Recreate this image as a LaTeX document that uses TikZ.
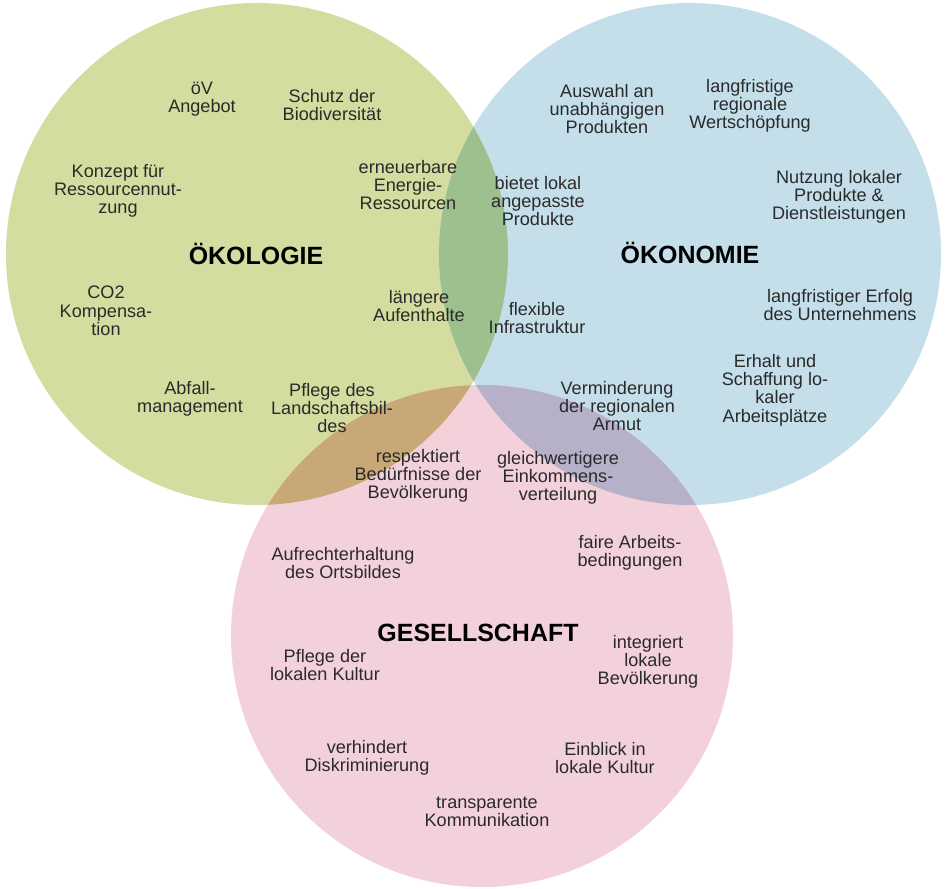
\documentclass[tikz,border=0pt]{standalone}
\usepackage{fontspec}
\setmainfont{Liberation Sans}
\usepackage{tikz}
\usepackage{xcolor}
\usetikzlibrary{positioning}
\definecolor{oekogreen}{HTML}{D5DC9F}
\definecolor{oekoblue}{HTML}{C4DFE9}
\definecolor{gesellpink}{HTML}{F3D1DB}
\definecolor{greenblue}{HTML}{9EBF8E}
\definecolor{greenpink}{HTML}{C8A876}
\definecolor{bluepink}{HTML}{B6B0C8}
\definecolor{allthree}{HTML}{9C9C7A}
\definecolor{inktext}{HTML}{2A2A2A}

\begin{document}
\begin{tikzpicture}[scale=0.2]
\tikzstyle{every node}+=[inner sep=0pt]
\tikzstyle{txt}=[align=center,text=inktext,font=\fontsize{10.3}{10.4}\selectfont]
\tikzstyle{head}=[align=center,text=black,font=\fontsize{14.2}{15}\selectfont\bfseries]
\useasboundingbox [fill=white] (0,0) rectangle (94.5,-88.9);
\coordinate (oeko) at (25.7,-25.4);
\coordinate (oeko2) at (69.0,-25.4);
\coordinate (gesell) at (48.2,-63.6);
\fill [oekogreen] (oeko) circle (25.1);
\fill [oekoblue] (oeko2) circle (25.1);
\fill [gesellpink] (gesell) circle (25.1);
\begin{scope}
\clip (oeko) circle (25.1);
\fill [greenblue] (oeko2) circle (25.1);
\fill [greenpink] (gesell) circle (25.1);
\end{scope}
\begin{scope}
\clip (oeko2) circle (25.1);
\fill [bluepink] (gesell) circle (25.1);
\clip (oeko) circle (25.1);
\fill [allthree] (gesell) circle (25.1);
\end{scope}
% Oekologie
\draw (25.6,-25.4) node [head] (oekologie) {ÖKOLOGIE};
\draw (20.2,-9.9) node [txt] (oev) {öV\\Angebot};
\draw (33.2,-10.5) node [txt] (biodiv) {Schutz der\\Biodiversität};
\draw (40.8,-18.5) node [txt] (energie) {erneuerbare\\Energie-\\Ressourcen};
\draw (11.8,-19.1) node [txt] (ressourcen) {Konzept für\\Ressourcennut-\\zung};
\draw (10.6,-31.1) node [txt] (co2) {CO2\\Kompensa-\\tion};
\draw (41.9,-30.6) node [txt] (aufenthalt) {längere\\Aufenthalte};
\draw (19.0,-39.9) node [txt] (abfall) {Abfall-\\management};
\draw (33.2,-40.8) node [txt] (landschaft) {Pflege des\\Landschaftsbil-\\des};
% Oekonomie
\draw (69.0,-25.3) node [head] (oekonomie) {ÖKONOMIE};
\draw (60.7,-10.9) node [txt] (auswahl) {Auswahl an\\unabhängigen\\Produkten};
\draw (75.0,-10.6) node [txt] (wertschoepfung) {langfristige\\regionale\\Wertschöpfung};
\draw (53.8,-20.1) node [txt] (angepasst) {bietet lokal\\angepasste\\Produkte};
\draw (83.9,-19.7) node [txt] (nutzung) {Nutzung lokaler\\Produkte \&\\Dienstleistungen};
\draw (84.0,-30.5) node [txt] (erfolg) {langfristiger Erfolg\\des Unternehmens};
\draw (53.7,-31.8) node [txt] (infra) {flexible\\Infrastruktur};
\draw (77.5,-39.0) node [txt] (arbeitsplatz) {Erhalt und\\Schaffung lo-\\kaler\\Arbeitsplätze};
\draw (61.7,-40.6) node [txt] (armut) {Verminderung\\der regionalen\\Armut};
% Gesellschaft
\draw (47.8,-63.3) node [head] (gesellschaft) {GESELLSCHAFT};
\draw (41.8,-47.6) node [txt] (beduerfnis) {respektiert\\Bedürfnisse der\\Bevölkerung};
\draw (55.8,-47.8) node [txt] (einkommen) {gleichwertigere\\Einkommens-\\verteilung};
\draw (34.3,-56.3) node [txt] (ortsbild) {Aufrechterhaltung\\des Ortsbildes};
\draw (63.0,-55.3) node [txt] (fair) {faire Arbeits-\\bedingungen};
\draw (64.8,-66.2) node [txt] (integriert) {integriert\\lokale\\Bevölkerung};
\draw (32.5,-66.5) node [txt] (kultur) {Pflege der\\lokalen Kultur};
\draw (36.7,-75.8) node [txt] (diskriminierung) {verhindert\\Diskriminierung};
\draw (60.5,-75.8) node [txt] (einblick) {Einblick in\\lokale Kultur};
\draw (48.7,-81.2) node [txt] (kommunikation) {transparente\\Kommunikation};
\end{tikzpicture}
\end{document}
